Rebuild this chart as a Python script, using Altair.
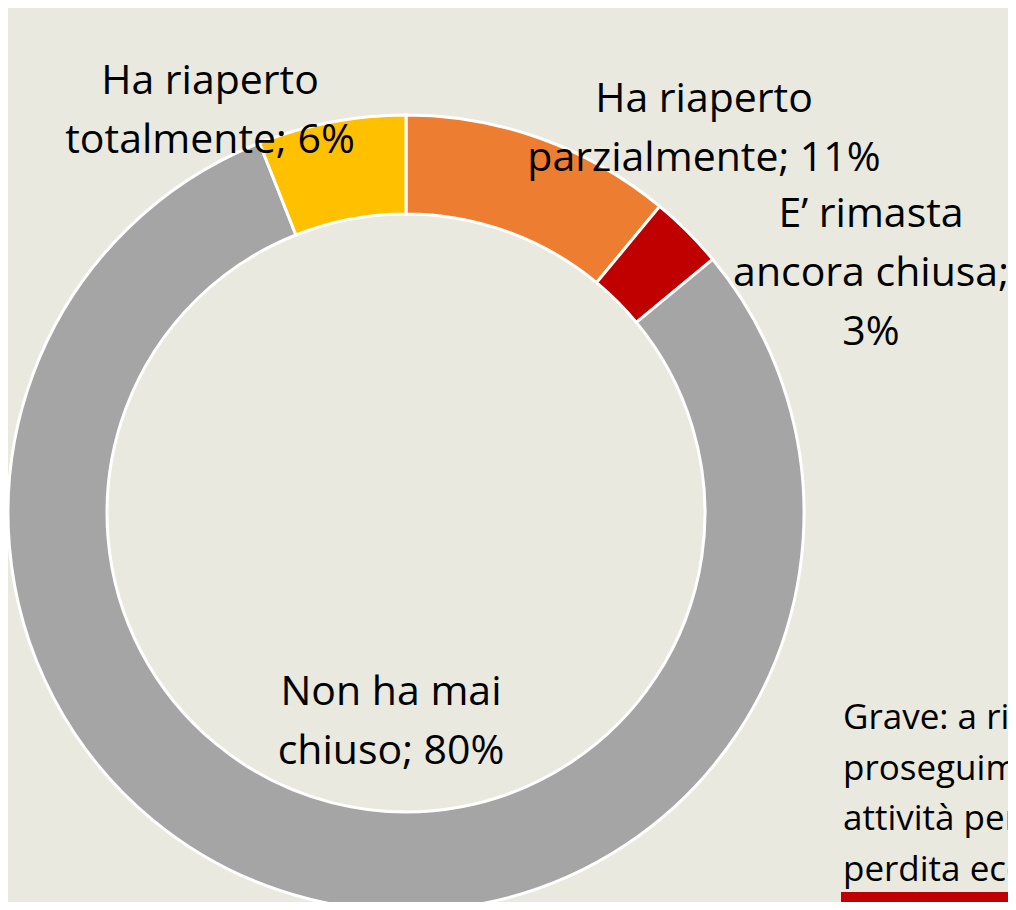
import altair as alt
import pandas as pd

# ---- data ----
categories = ["Ha riaperto parzialmente", "E’ rimasta ancora chiusa", "Non ha mai chiuso", "Ha riaperto totalmente"]
values = [11, 3, 80, 6]
colors = ["#ED7D31", "#C00000", "#A5A5A5", "#FFC000"]
label_lines = [
    ["Ha riaperto", "parzialmente; 11%"],
    ["E’ rimasta", "ancora chiusa;", "3%"],
    ["Non ha mai", "chiuso; 80%"],
    ["Ha riaperto", "totalmente; 6%"],
]
note_lines = ["Grave: a rischio il", "proseguimento della", "attività per la", "perdita economica"]

df = pd.DataFrame({
    "category": categories,
    "value": values,
    "idx": list(range(len(categories))),
    "label": ["\n".join(l) for l in label_lines],
})

BG = "#E9E9DF"
FONT = "Open Sans"
CX, CY = 398, 505

donut = alt.Chart(df).mark_arc(
    radius=398, radius2=299, stroke="white", strokeWidth=3
).encode(
    theta=alt.Theta("value:Q", stack=True),
    order=alt.Order("idx:Q"),
    color=alt.Color("category:N", scale=alt.Scale(domain=categories, range=colors), legend=None),
    x=alt.value(CX),
    y=alt.value(CY),
)

# label placement (annotation positions: centre of first line, chart coordinates)
label_pos = {
    "Ha riaperto parzialmente": (696, 92),
    "E’ rimasta ancora chiusa": (863, 207),
    "Non ha mai chiuso": (383, 685),
    "Ha riaperto totalmente": (202, 74),
}

layers = [donut]
for c in categories:
    px, py = label_pos[c]
    layers.append(
        alt.Chart(df).transform_filter(alt.datum.category == c).mark_text(
            font=FONT, fontSize=41, color="black", align="center", baseline="middle",
            lineBreak="\n", lineHeight=59,
        ).encode(text="label:N", x=alt.value(px), y=alt.value(py))
    )

note = alt.Chart(pd.DataFrame({"t": ["\n".join(note_lines)]})).mark_text(
    font=FONT, fontSize=35, color="black", align="left", baseline="middle",
    lineBreak="\n", lineHeight=50.7,
).encode(text="t:N", x=alt.value(835), y=alt.value(710))

bar = alt.Chart(pd.DataFrame({"t": [0]})).mark_rect(color="#C00000").encode(
    x=alt.value(833), x2=alt.value(1000), y=alt.value(884), y2=alt.value(902)
)

chart = alt.layer(*layers, note, bar).properties(
    width=1000, height=894, background=BG, padding=0,
    autosize=alt.AutoSizeParams(type="none"),
).configure_view(stroke=None)

chart.save("out.html", embed_options={"renderer": "svg", "actions": False})
